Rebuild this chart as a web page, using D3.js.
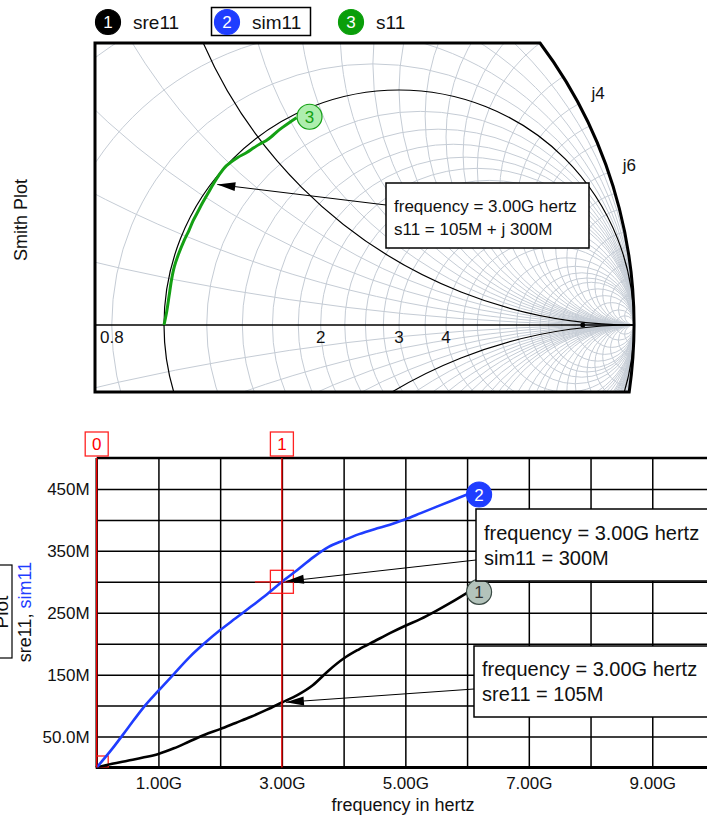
<!DOCTYPE html>
<html>
<head>
<meta charset="utf-8">
<script src="https://cdn.jsdelivr.net/npm/d3@7"></script>
<style>
body { margin: 0; background: #fff; }
svg { display: block; font-family: "Liberation Sans", Arial, sans-serif; }
</style>
</head>
<body>
<div id="chart"></div>
<script>
// sweep, frequency in GHz; values in "M" units as the simulator prints them
var freqGHz = [0, 0.25, 0.5, 0.75, 1, 1.25, 1.5, 1.75, 2, 2.25, 2.5, 2.75, 3,
    3.25, 3.5, 3.75, 4, 4.25, 4.5, 4.75, 5, 5.25, 5.5, 5.75, 6];
var sre11 = [0, 6, 11, 16, 22, 31, 42, 53, 62, 72, 82, 93, 105,
    117, 133, 156, 176, 191, 204, 217, 229, 240, 253, 267, 282];
var sim11 = [0, 30, 63, 96, 124, 151, 178, 201, 222, 241, 260, 279, 300,
    319, 339, 356, 367, 377, 385, 392, 401, 411, 421, 431, 441];

var traceNames = ["sre11", "sim11", "s11"];
var xTickValues = [1, 3, 5, 7, 9];
var yTickValues = [50, 150, 250, 350, 450];
var cursorFreqs = [0, 3];

// smith grid values
var smithResistance = [0.2, 0.4, 0.6, 0.8, 1.2, 1.4, 1.6, 1.8, 2, 2.25, 2.5, 2.75, 3,
    3.5, 4, 4.5, 5, 6, 7, 8, 9, 10, 12, 15, 20, 30, 50];
var smithReactance = [0.2, 0.4, 0.6, 0.8, 1.2, 1.4, 1.6, 1.8, 2, 2.25, 2.5, 2.75, 3,
    3.5, 4, 4.5, 5, 6, 7, 8, 10, 12, 15, 20, 30, 50];
var smithRLabels = [0.8, 2, 3, 4];
var smithXLabels = [4, 6];
var smithDot = [0.891, 0];

var W = 707, H = 819;
var font = "'Liberation Sans', Arial, sans-serif";
var blue = "#1f3dff", green = "#14a014";

var svg = d3.select("#chart").append("svg")
    .attr("width", W)
    .attr("height", H);
var defs = svg.append("defs");

// draws leader line from the box to the data point with a filled head
function arrow(g, x1, y1, x2, y2) {
    var dx = x1 - x2, dy = y1 - y2;
    var len = Math.sqrt(dx * dx + dy * dy);
    var ux = dx / len, uy = dy / len;
    var tx = x2 + ux * 4, ty = y2 + uy * 4;
    var bx = tx + ux * 18, by = ty + uy * 18;
    g.append("line")
        .attr("x1", x1).attr("y1", y1).attr("x2", tx).attr("y2", ty)
        .attr("stroke", "#000").attr("stroke-width", 1);
    g.append("path")
        .attr("d", "M" + tx + "," + ty + "L" + (bx - uy * 4.5) + "," + (by + ux * 4.5) +
            "L" + (bx + uy * 4.5) + "," + (by - ux * 4.5) + "Z")
        .attr("fill", "#000");
}

function noteBox(g, x, y, w, h, lines, size, lineY) {
    g.append("rect").attr("x", x).attr("y", y).attr("width", w).attr("height", h)
        .attr("fill", "#fff").attr("stroke", "#000").attr("stroke-width", 1.5);
    lines.forEach(function (t, i) {
        g.append("text").attr("x", x + 8).attr("y", lineY[i])
            .attr("font-size", size).attr("fill", "#111").text(t);
    });
}

function marker(g, x, y, label, fill, stroke, color) {
    g.append("circle").attr("cx", x).attr("cy", y).attr("r", 12.5)
        .attr("fill", fill).attr("stroke", stroke).attr("stroke-width", 1.2);
    g.append("text").attr("x", x).attr("y", y + 6)
        .attr("text-anchor", "middle").attr("font-size", 17)
        .attr("fill", color).text(label);
}

// ---------------- legend ----------------
var legendColors = ["#000", blue, "#0a9e0a"];
var legendX = [108, 227, 351];
var legend = svg.append("g");
legend.append("rect").attr("x", 211.5).attr("y", 7.5).attr("width", 99).attr("height", 28)
    .attr("fill", "none").attr("stroke", "#000").attr("stroke-width", 1.5);
traceNames.forEach(function (name, i) {
    marker(legend, legendX[i], 22, String(i + 1), legendColors[i], legendColors[i], "#fff");
    legend.append("text").attr("x", legendX[i] + 25).attr("y", 29)
        .attr("font-size", 19).attr("fill", "#111").text(name);
});

// ---------------- smith plot ----------------
var sm = {cx: 164, cy: 325, R: 470, left: 95, top: 43, bottom: 392};
var smX = d3.scaleLinear().domain([-1, 1]).range([sm.cx - sm.R, sm.cx + sm.R]);
var smY = d3.scaleLinear().domain([-1, 1]).range([sm.cy + sm.R, sm.cy - sm.R]);
var smLen = function (v) { return smX(v) - smX(0); };

function edgeX(y) {
    return sm.cx + Math.sqrt(sm.R * sm.R - (y - sm.cy) * (y - sm.cy));
}
var smOutline = "M" + sm.left + "," + sm.top + "H" + edgeX(sm.top) +
    "A" + sm.R + "," + sm.R + " 0 0,1 " + edgeX(sm.bottom) + "," + sm.bottom +
    "H" + sm.left + "Z";

defs.append("clipPath").attr("id", "smithClip").append("path").attr("d", smOutline);

var smith = svg.append("g");
var smGrid = smith.append("g").attr("clip-path", "url(#smithClip)");

smGrid.selectAll("circle.res").data(smithResistance).enter().append("circle")
    .attr("class", "res")
    .attr("cx", function (r) { return smX(r / (1 + r)); })
    .attr("cy", smY(0))
    .attr("r", function (r) { return smLen(1 / (1 + r)); })
    .attr("fill", "none").attr("stroke", "#c5ccd5").attr("stroke-width", 1);

var reac = [];
smithReactance.forEach(function (x) { reac.push(x, -x); });
smGrid.selectAll("circle.reac").data(reac).enter().append("circle")
    .attr("class", "reac")
    .attr("cx", smX(1))
    .attr("cy", function (x) { return smY(1 / x); })
    .attr("r", function (x) { return smLen(1 / Math.abs(x)); })
    .attr("fill", "none").attr("stroke", "#c5ccd5").attr("stroke-width", 1);

// unit resistance circle and unit reactance arcs in black
smGrid.append("circle").attr("cx", smX(0.5)).attr("cy", smY(0)).attr("r", smLen(0.5))
    .attr("fill", "none").attr("stroke", "#000").attr("stroke-width", 1.2);
smGrid.selectAll("circle.unit").data([1, -1]).enter().append("circle")
    .attr("class", "unit")
    .attr("cx", smX(1))
    .attr("cy", function (x) { return smY(1 / x); })
    .attr("r", smLen(1))
    .attr("fill", "none").attr("stroke", "#000").attr("stroke-width", 1.2);

smGrid.append("line").attr("x1", sm.left).attr("x2", smX(1))
    .attr("y1", smY(0)).attr("y2", smY(0))
    .attr("stroke", "#000").attr("stroke-width", 1.5);
smGrid.append("circle").attr("cx", smX(smithDot[0])).attr("cy", smY(smithDot[1]))
    .attr("r", 2.5).attr("fill", "#000");

var s11Line = d3.line()
    .curve(d3.curveCatmullRom)
    .x(function (d, i) { return smX(sre11[i] / 1000); })
    .y(function (d, i) { return smY(sim11[i] / 1000); });
smGrid.append("path").datum(freqGHz).attr("d", s11Line)
    .attr("fill", "none").attr("stroke", green).attr("stroke-width", 3);

smith.append("path").attr("d", smOutline)
    .attr("fill", "none").attr("stroke", "#000").attr("stroke-width", 3);

smith.selectAll("text.rl").data(smithRLabels).enter().append("text")
    .attr("class", "rl")
    .attr("x", function (r) { return smX((r - 1) / (r + 1)); })
    .attr("y", smY(0) + 18)
    .attr("text-anchor", "middle").attr("font-size", 17).attr("fill", "#111")
    .text(function (r) { return r; });

smith.selectAll("text.xl").data(smithXLabels).enter().append("text")
    .attr("class", "xl")
    .attr("x", function (x) { return smX((x * x - 1) / (x * x + 1)) + 22 * (x * x - 1) / (x * x + 1); })
    .attr("y", function (x) { return smY(2 * x / (x * x + 1)) - 22 * 2 * x / (x * x + 1); })
    .attr("dy", "0.35em")
    .attr("text-anchor", "middle").attr("font-size", 17).attr("fill", "#111")
    .text(function (x) { return "j" + x; });

svg.append("text").attr("transform", "translate(27,220) rotate(-90)")
    .attr("text-anchor", "middle").attr("font-size", 18).attr("fill", "#111")
    .text("Smith Plot");

var ci = freqGHz.indexOf(cursorFreqs[1]);
var last = freqGHz.length - 1;
arrow(smith, 386, 205, smX(sre11[ci] / 1000), smY(sim11[ci] / 1000));
noteBox(smith, 386, 183, 203, 65,
    ["frequency = " + cursorFreqs[1].toFixed(2) + "G hertz",
     "s11 = " + sre11[ci] + "M + j " + sim11[ci] + "M"], 17, [212, 235]);
marker(smith, smX(sre11[last] / 1000) + 13, smY(sim11[last] / 1000) - 1, "3", "#aeeeae", green, green);

// ---------------- rectangular plot ----------------
var pl = {left: 96.7, right: 714, top: 458, bottom: 767.5};
var xS = d3.scaleLinear().domain([0, 10]).range([pl.left, pl.right]);
var yS = d3.scaleLinear().domain([0, 500]).range([pl.bottom, pl.top]);

defs.append("clipPath").attr("id", "plotClip").append("rect")
    .attr("x", pl.left).attr("y", pl.top)
    .attr("width", pl.right - pl.left).attr("height", pl.bottom - pl.top);

var plot = svg.append("g");

// grid via axes
plot.append("g").attr("transform", "translate(0," + pl.bottom + ")")
    .call(d3.axisBottom(xS).tickValues(d3.range(1, 10)).tickSize(pl.top - pl.bottom).tickFormat(""))
    .call(function (g) {
        g.select(".domain").remove();
        g.selectAll("line").attr("stroke", "#000").attr("stroke-width", 1.5);
    });
plot.append("g").attr("transform", "translate(" + pl.left + ",0)")
    .call(d3.axisLeft(yS).tickValues(d3.range(50, 500, 50)).tickSize(pl.left - pl.right).tickFormat(""))
    .call(function (g) {
        g.select(".domain").remove();
        g.selectAll("line").attr("stroke", "#000").attr("stroke-width", 1.5);
    });

// tick labels
plot.append("g").attr("transform", "translate(0," + pl.bottom + ")")
    .call(d3.axisBottom(xS).tickValues(xTickValues).tickSize(0).tickPadding(9)
        .tickFormat(function (v) { return v.toFixed(2) + "G"; }))
    .call(function (g) {
        g.select(".domain").remove();
        g.selectAll("text").attr("font-size", 17).attr("font-family", font).attr("fill", "#111");
    });
plot.append("g").attr("transform", "translate(" + pl.left + ",0)")
    .call(d3.axisLeft(yS).tickValues(yTickValues).tickSize(0).tickPadding(7)
        .tickFormat(function (v) { return (v < 100 ? v.toFixed(1) : v) + "M"; }))
    .call(function (g) {
        g.select(".domain").remove();
        g.selectAll("text").attr("font-size", 17).attr("font-family", font).attr("fill", "#111");
    });

// frame
plot.append("line").attr("x1", pl.left).attr("x2", W).attr("y1", pl.top).attr("y2", pl.top)
    .attr("stroke", "#000").attr("stroke-width", 2.5);
plot.append("line").attr("x1", pl.left - 1).attr("x2", W).attr("y1", pl.bottom).attr("y2", pl.bottom)
    .attr("stroke", "#000").attr("stroke-width", 3);
plot.append("line").attr("x1", pl.left).attr("x2", pl.left).attr("y1", pl.top).attr("y2", pl.bottom)
    .attr("stroke", "#000").attr("stroke-width", 2.5);

var traces = plot.append("g").attr("clip-path", "url(#plotClip)");

// cursors
cursorFreqs.forEach(function (f, k) {
    var x = xS(f);
    plot.append("line").attr("x1", x).attr("x2", x).attr("y1", pl.top).attr("y2", pl.bottom)
        .attr("stroke", "#f00").attr("stroke-width", 1.3);
    plot.append("rect").attr("x", x - 11.5).attr("y", 432).attr("width", 23).attr("height", 24)
        .attr("fill", "#fff").attr("stroke", "#f22").attr("stroke-width", 1.3);
    plot.append("text").attr("x", x).attr("y", 450).attr("text-anchor", "middle")
        .attr("font-size", 17).attr("fill", "#f00").text(k);
    var v = sim11[freqGHz.indexOf(f)];
    traces.append("rect").attr("x", x - 11.5).attr("y", yS(v) - 11.5).attr("width", 23).attr("height", 23)
        .attr("fill", "none").attr("stroke", "#f22").attr("stroke-width", 1.3);
    traces.append("line").attr("x1", x - 27).attr("x2", x + 11).attr("y1", yS(v)).attr("y2", yS(v))
        .attr("stroke", "#f22").attr("stroke-width", 1.3);
});

var reLine = d3.line()
    .curve(d3.curveMonotoneX)
    .x(function (d) { return xS(d); })
    .y(function (d, i) { return yS(sre11[i]); });
var imLine = d3.line()
    .curve(d3.curveMonotoneX)
    .x(function (d) { return xS(d); })
    .y(function (d, i) { return yS(sim11[i]); });
traces.append("path").datum(freqGHz).attr("d", reLine)
    .attr("fill", "none").attr("stroke", "#000").attr("stroke-width", 2.6);
traces.append("path").datum(freqGHz).attr("d", imLine)
    .attr("fill", "none").attr("stroke", blue).attr("stroke-width", 2.6);

marker(plot, xS(freqGHz[last]) + 12, yS(sre11[last]) - 1, "1", "#b3c3bb", "#3a4a44", "#333");
marker(plot, xS(freqGHz[last]) + 12, yS(sim11[last]), "2", blue, blue, "#fff");

// notes
var fx = xS(cursorFreqs[1]);
arrow(plot, 476, 560, fx, yS(sim11[ci]));
noteBox(plot, 476, 509, 260, 72,
    ["frequency = " + cursorFreqs[1].toFixed(2) + "G hertz", "sim11 = " + sim11[ci] + "M"], 20, [540, 565]);
arrow(plot, 474, 689, fx, yS(sre11[ci]));
noteBox(plot, 474, 646, 260, 71,
    ["frequency = " + cursorFreqs[1].toFixed(2) + "G hertz", "sre11 = " + sre11[ci] + "M"], 20, [676, 701]);

// axis titles
svg.append("text").attr("x", 403).attr("y", 811).attr("text-anchor", "middle")
    .attr("font-size", 18).attr("fill", "#111").text("frequency in hertz");

var yTitle = svg.append("text").attr("transform", "translate(31,612) rotate(-90)")
    .attr("text-anchor", "middle").attr("font-size", 18);
yTitle.append("tspan").attr("fill", "#111").text("sre11, ");
yTitle.append("tspan").attr("fill", blue).text("sim11");

svg.append("rect").attr("x", -30).attr("y", 565).attr("width", 42).attr("height", 93)
    .attr("fill", "#fff").attr("stroke", "#000").attr("stroke-width", 1.2);
svg.append("text").attr("transform", "translate(8,612) rotate(-90)")
    .attr("text-anchor", "middle").attr("font-size", 19).attr("fill", "#111").text("Plot");
</script>
</body>
</html>
